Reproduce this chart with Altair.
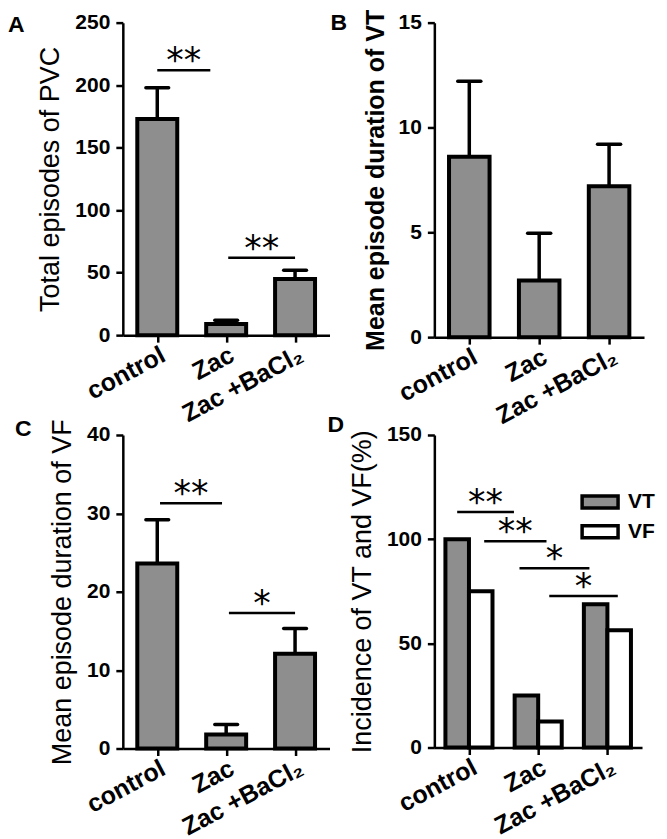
import json
import altair as alt
import pandas as pd

# ---------------- data ----------------
groups = ["control", "Zac", "Zac +BaCl\u2082"]
pos = [0, 1, 2]

# Panel A: total episodes of PVC (mean, upper error end)
pvc_mean = [173, 9, 45]
pvc_top = [198, 12, 52]
# Panel B: mean episode duration of VT
vt_mean = [8.6, 2.7, 7.2]
vt_top = [12.2, 4.95, 9.2]
# Panel C: mean episode duration of VF
vf_mean = [23.6, 1.8, 12.1]
vf_top = [29.2, 3.05, 15.3]
# Panel D: incidence (%)
series = ["VT", "VF"]
inc_vt = [100, 25, 68.75]
inc_vf = [75, 12.5, 56.25]

# significance brackets: start, end (category units), height, label
sigA_x1 = [0.0, 1.03]
sigA_x2 = [0.77, 2.0]
sigA_y = [212, 62]
sigA_lab = ["**", "**"]
sigC_x1 = [0.04, 1.04]
sigC_x2 = [0.94, 2.0]
sigC_y = [31.3, 17.3]
sigC_lab = ["**", "*"]
sigD_x1 = [-0.17, 0.22, 0.73, 1.16]
sigD_x2 = [0.65, 1.12, 1.74, 2.15]
sigD_y = [113, 99, 86, 72.7]
sigD_lab = ["**", "**", "*", "*"]

# y-axis ticks
ticksA = [0, 50, 100, 150, 200, 250]
ticksB = [0, 5, 10, 15]
ticksC = [0, 10, 20, 30, 40]
ticksD = [0, 50, 100, 150]

# ---------------- style ----------------
FONT = "Liberation Sans"
GRAY = "#8e8e8e"
HW = 0.29       # half bar width (category units)
CAP = 0.165     # half cap width
label_expr = json.dumps(groups) + "[datum.value]"


def xscale():
    return alt.Scale(domain=[-0.5, 2.5], nice=False, zero=False)


def xaxis():
    return alt.Axis(values=pos, labelExpr=label_expr, title=None, grid=False,
                    labelAngle=-28, labelFontSize=25, labelFontWeight="bold",
                    labelFont=FONT, labelColor="black", labelPadding=0,
                    labelLimit=400,
                    tickSize=7, tickWidth=2.5, tickColor="black",
                    domainWidth=2.5, domainColor="black", labelOverlap=False)


def yaxis(ticks, title, bold):
    return alt.Axis(values=ticks, title=title, grid=False,
                    labelFontSize=21, labelFontWeight="bold", labelFont=FONT,
                    labelColor="black", labelPadding=6,
                    tickSize=7, tickWidth=2.5, tickColor="black",
                    domainWidth=2.5, domainColor="black",
                    titleFont=FONT, titleFontSize=25 if bold else 27,
                    titleFontWeight="bold" if bold else "normal",
                    titleColor="black", titlePadding=10)


def letter(ch, dx, dy):
    return alt.Chart(pd.DataFrame({"t": [ch]})).mark_text(
        font=FONT, fontSize=23, fontWeight="bold", align="left",
        baseline="middle", color="black").encode(
        text="t:N", x=alt.value(dx), y=alt.value(dy))


def sig_layer(x1, x2, y, lab, ys):
    df = pd.DataFrame({"x1": x1, "x2": x2, "y": y, "lab": lab})
    base = alt.Chart(df)
    rule = base.mark_rule(stroke="black", strokeWidth=2.5).encode(
        x=alt.X("x1:Q", scale=xscale()), x2="x2:Q",
        y=alt.Y("y:Q", scale=ys))
    txt = base.transform_calculate(mid="(datum.x1 + datum.x2) / 2").mark_text(
        font="DejaVu Sans", fontSize=35, baseline="alphabetic", dy=2,
        color="black").encode(
        x=alt.X("mid:Q", scale=xscale()),
        y=alt.Y("y:Q", scale=ys), text="lab:N")
    return [rule, txt]


def bar_panel(means, tops, ymax, ticks, title, bold, ch, lx, ly, w, h, sig=None):
    df = pd.DataFrame({"pos": pos, "mean": means, "top": tops})
    df["x0"] = df["pos"] - HW
    df["x1"] = df["pos"] + HW
    df["c0"] = df["pos"] - CAP
    df["c1"] = df["pos"] + CAP
    ys = alt.Scale(domain=[0, ymax], nice=False)
    base = alt.Chart(df)
    err = base.mark_rule(stroke="black", strokeWidth=3.5).encode(
        x=alt.X("pos:Q", scale=xscale(), axis=xaxis()),
        y=alt.Y("mean:Q", scale=ys, axis=yaxis(ticks, title, bold)),
        y2="top:Q")
    cap = base.mark_rule(stroke="black", strokeWidth=3.5, strokeCap="round").encode(
        x=alt.X("c0:Q", scale=xscale()), x2="c1:Q",
        y=alt.Y("top:Q", scale=ys))
    bars = base.mark_rect(fill=GRAY, stroke="black", strokeWidth=4).encode(
        x=alt.X("x0:Q", scale=xscale()), x2="x1:Q",
        y=alt.Y("mean:Q", scale=ys), y2=alt.datum(0))
    layers = [err, cap, bars]
    if sig is not None:
        layers += sig_layer(*sig, ys)
    layers.append(letter(ch, lx, ly))
    return alt.layer(*layers).properties(width=w, height=h)


A = bar_panel(pvc_mean, pvc_top, 250, ticksA, "Total episodes of PVC", False,
              "A", -115, 2, 207, 313, sig=(sigA_x1, sigA_x2, sigA_y, sigA_lab))
B = bar_panel(vt_mean, vt_top, 15, ticksB, "Mean episode duration of VT", True,
              "B", -104, 0, 210, 315)
C = bar_panel(vf_mean, vf_top, 40, ticksC, "Mean episode duration of VF", False,
              "C", -108, -6, 207, 314, sig=(sigC_x1, sigC_x2, sigC_y, sigC_lab))

# Panel D: grouped bars
rows = []
for i, g in enumerate(groups):
    rows.append({"pos": pos[i], "series": "VT", "val": inc_vt[i],
                 "x0": pos[i] - 0.34, "x1": pos[i]})
    rows.append({"pos": pos[i], "series": "VF", "val": inc_vf[i],
                 "x0": pos[i], "x1": pos[i] + 0.34})
dfD = pd.DataFrame(rows)
ysD = alt.Scale(domain=[0, 150], nice=False)
barsD = alt.Chart(dfD).mark_rect(stroke="black", strokeWidth=4).encode(
    x=alt.X("x0:Q", scale=xscale(), axis=xaxis()), x2="x1:Q",
    y=alt.Y("val:Q", scale=ysD, axis=yaxis(ticksD, "Incidence of VT and VF(%)", False)),
    y2=alt.datum(0),
    fill=alt.Fill("series:N", scale=alt.Scale(domain=series, range=[GRAY, "white"]),
                  legend=alt.Legend(title=None, orient="none", legendX=152, legendY=53,
                                    symbolType="M-1.5,-0.5H1.5V0.5H-1.5Z",
                                    symbolSize=576, symbolStrokeColor="black",
                                    symbolStrokeWidth=3.5, labelFont=FONT,
                                    labelFontSize=21, labelFontWeight="bold",
                                    labelColor="black", labelOffset=14,
                                    rowPadding=3, padding=0)))
D = alt.layer(barsD, *sig_layer(sigD_x1, sigD_x2, sigD_y, sigD_lab, ysD),
              letter("D", -107, -10)).properties(width=208, height=313)

chart = alt.concat(A, B, C, D, columns=2, bounds="flush",
                   spacing={"row": 98, "column": 105}).resolve_scale(
    fill="independent").configure_view(stroke=None).properties(
    padding={"left": 0, "top": 0, "right": 4, "bottom": 12},
    background="white")

chart.save("out.html", embed_options={"renderer": "svg", "actions": False})
